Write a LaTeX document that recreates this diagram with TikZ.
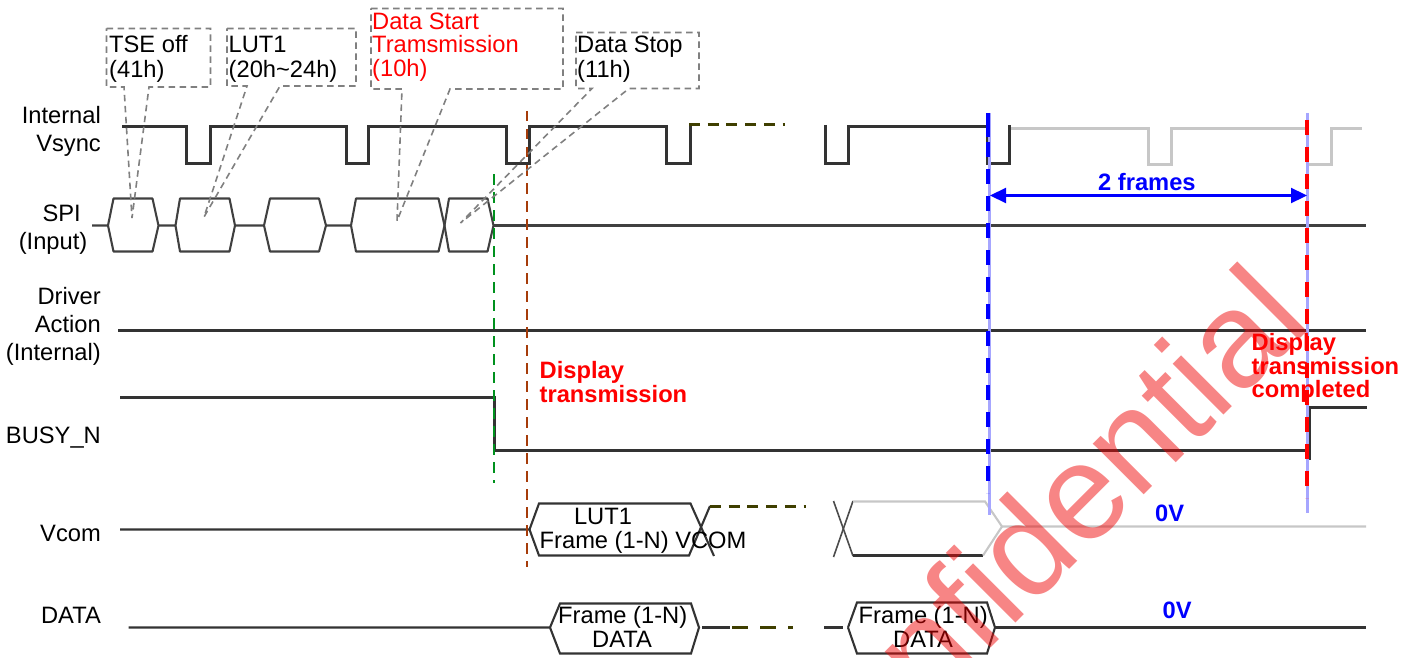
\documentclass[tikz,border=0pt]{standalone}
\usepackage{fontspec}
\usetikzlibrary{arrows.meta}
\setmainfont{Liberation Sans}
\definecolor{olivedark}{RGB}{63,63,0}
\definecolor{markgreen}{RGB}{0,145,30}
\definecolor{markbrown}{RGB}{166,60,10}
\definecolor{wmred}{RGB}{238,0,0}
\tikzset{
  wave/.style={draw=black!80,line width=2.1pt,line join=miter},
  thinwave/.style={draw=black!70,line width=1.6pt},
  spiwave/.style={draw=black!75,line width=2.1pt,line join=round},
  ghost/.style={draw=black!22,line width=2.1pt},
  olive/.style={draw=olivedark,line width=2.4pt,dash pattern=on 11pt off 7.7pt},
  callout/.style={draw=black!50,line width=1.6pt,dash pattern=on 6.5pt off 4.5pt},
  lbl/.style={font=\fontsize{23.7}{28}\selectfont,inner sep=0pt,text=black},
  lblw/.style={lbl,anchor=base west},
  lble/.style={lbl,anchor=base east},
  lblc/.style={lbl,anchor=base},
  redt/.style={lblw,text=red},
  redb/.style={lblw,text=red,font=\fontsize{23.7}{28}\selectfont\bfseries},
  blueb/.style={lblw,text=blue,font=\fontsize{23.7}{28}\selectfont\bfseries},
  greend/.style={draw=markgreen,line width=2.4pt,dash pattern=on 10.5pt off 7.5pt},
  brownd/.style={draw=markbrown,line width=2.4pt,dash pattern=on 10.5pt off 7.5pt},
  halo/.style={draw=blue!35,line width=2.4pt},
  bluem/.style={draw=blue,line width=4pt,dash pattern=on 15pt off 12pt},
  redm/.style={draw=red,line width=4pt,dash pattern=on 15pt off 12pt},
}
\begin{document}
\begin{tikzpicture}[x=1pt,y=-1pt]
\useasboundingbox (0,0) rectangle (1419,658);
\clip (0,0) rectangle (1419,658);

% --- Internal Vsync
\draw[wave] (122,126.5) -- (186.5,126.5) -- (186.5,163.5) -- (210.5,163.5) -- (210.5,126.5) -- (346.5,126.5) -- (346.5,163.5) -- (368.5,163.5) -- (368.5,126.5) -- (506.5,126.5) -- (506.5,163.5) -- (529.5,163.5) -- (529.5,126.5) -- (666.5,126.5) -- (666.5,163.5) -- (690.5,163.5) -- (690.5,124.5);
\draw[olive] (689,124.5) -- (785,124.5);
\draw[wave] (825.5,125) -- (825.5,163.5) -- (848.5,163.5) -- (848.5,126.5) -- (987.5,126.5) -- (987.5,163.5) -- (1009.5,163.5) -- (1009.5,125);
\draw[ghost] (1011,128.5) -- (1148.5,128.5) -- (1148.5,164.5) -- (1171.5,164.5) -- (1171.5,128.5) -- (1307.5,128.5) -- (1307.5,164.5) -- (1331.5,164.5) -- (1331.5,128.5) -- (1362,128.5);

% --- SPI
\draw[spiwave] (92,225.5) -- (108,225.5) -- (113.5,198.5) -- (152.5,198.5) -- (158.5,225.5) -- (152.5,251.5) -- (113.5,251.5) -- (108,225.5);
\draw[spiwave] (158.5,225.5) -- (175.5,225.5) -- (180,198.5) -- (229.5,198.5) -- (235,225.5) -- (229.5,251.5) -- (180,251.5) -- (175.5,225.5);
\draw[spiwave] (235,225.5) -- (264,225.5) -- (270,198.5) -- (319,198.5) -- (326,225.5) -- (319,251.5) -- (270,251.5) -- (264,225.5);
\draw[spiwave] (326,225.5) -- (351,225.5) -- (356,198.5) -- (438.5,198.5) -- (444.5,225.5) -- (438.5,251.5) -- (356,251.5) -- (351,225.5);
\draw[spiwave] (444.5,225.5) -- (449,198.5) -- (487.5,198.5) -- (493.5,225.5) -- (487.5,251.5) -- (449,251.5) -- (444.5,225.5);
\draw[spiwave] (493.5,225.5) -- (1366,225.5);

% --- Driver Action
\draw[wave] (118,330.5) -- (1366,330.5);

% --- BUSY_N
\draw[wave] (120,397.5) -- (494.5,397.5) -- (494.5,450.5) -- (1307,450.5);
\draw[wave] (1309.5,460) -- (1309.5,407.5) -- (1367,407.5);

% --- Vcom
\draw[wave] (120,529.5) -- (529.5,529.5) -- (539,503.5) -- (690.5,503.5) -- (714,556);
\draw[wave] (529.5,529.5) -- (539,555.5) -- (689,555.5) -- (710,506);
\draw[olive] (710,506.5) -- (806,506.5);
\draw[thinwave] (833.5,501) -- (853,556);
\draw[thinwave] (833.5,557) -- (853,501);
\draw[wave] (853,555.5) -- (983,555.5);
\draw[ghost] (853,501.5) -- (985,501.5) -- (1002,526.5) -- (1366,526.5);
\draw[ghost] (983,555.5) -- (1002,526.5);

% --- DATA
\draw[wave] (128.5,627.5) -- (550,627.5) -- (560,603.5) -- (691,603.5) -- (699,627.5) -- (691,653.5) -- (560,653.5) -- (550,627.5);
\draw[wave] (702,627.5) -- (730,627.5);
\draw[draw=olivedark,line width=3.6pt,dash pattern=on 16pt off 12pt] (732,627.5) -- (793,627.5);
\draw[wave] (824,627.5) -- (842.5,627.5);
\draw[wave] (848,627.5) -- (857,602.5) -- (987,602.5) -- (995,627.5) -- (987,653.5) -- (857,653.5) -- (848,627.5);
\draw[wave] (995,627.5) -- (1366,627.5);

% --- event markers
\draw[greend] (494,174) -- (494,483);
\draw[brownd] (527,111) -- (527,567);
\draw[halo] (989.5,113) -- (989.5,515);
\draw[draw=blue,line width=4pt] (987.5,113) -- (987.5,137);
\draw[bluem] (987.5,142) -- (987.5,493);
\draw[halo] (1307.5,113) -- (1307.5,513);
\draw[redm] (1307,120) -- (1307,498);

% --- 2 frames
\coordinate (fa) at (990,195.5);
\coordinate (fb) at (1307,195.5);
\draw[draw=blue,line width=2.2pt,{Triangle[length=16pt,width=15pt]}-{Triangle[length=16pt,width=15pt]}] (fa) -- (fb);
\node[blueb] (frames) at (1098,190) {2 frames};

% --- callouts
\draw[callout] (106.5,28.5) -- (210.5,28.5) -- (210.5,87) -- (149,87) -- (132,218) -- (124,87) -- (106.5,87) -- cycle;
\draw[callout] (227,28.5) -- (356,28.5) -- (356,86) -- (280,86) -- (204,217) -- (247,86) -- (227,86) -- cycle;
\draw[callout] (371,8.5) -- (563,8.5) -- (563,89) -- (450,89) -- (397,221) -- (402,89) -- (371,89) -- cycle;
\draw[callout] (576,32.5) -- (699,32.5) -- (699,88.5) -- (629,88.5) -- (460.5,223) -- (592,88.5) -- (576,88.5) -- cycle;

\node[lblw] (tse1) at (109,53) {TSE off};
\node[lblw] (tse2) at (109,78) {(41h)};
\node[lblw] (lut1) at (228.5,53) {LUT1};
\node[lblw] (lut2) at (228.5,78) {(20h\textasciitilde24h)};
\node[redt] (ds1) at (372,29.5) {Data Start};
\node[redt] (ds2) at (372,53) {Tramsmission};
\node[redt] (ds3) at (372,77) {(10h)};
\node[lblw] (stop1) at (577,53) {Data Stop};
\node[lblw] (stop2) at (577,78) {(11h)};

% --- signal names
\node[lble] (n1) at (101,124) {Internal};
\node[lble] (n2) at (101,152) {Vsync};
\node[lble] (n3) at (81,221) {SPI};
\node[lble] (n4) at (87.5,249.5) {(Input)};
\node[lble] (n5) at (101,304.5) {Driver};
\node[lble] (n6) at (101,332.5) {Action};
\node[lble] (n7) at (101,360.5) {(Internal)};
\node[lble] (n8) at (101,443) {BUSY\_N};
\node[lble] (n9) at (101,541) {Vcom};
\node[lble] (n10) at (101,623.5) {DATA};

% --- wave texts
\node[lblc] (v1) at (603,524) {LUT1};
\node[lblw] (v2) at (539.5,548) {Frame (1-N) VCOM};
\node[lblw] (d1) at (558,623.5) {Frame (1-N)};
\node[lblc] (d2) at (622,647) {DATA};
\node[lblw] (d3) at (858.5,623) {Frame (1-N)};
\node[lblc] (d4) at (923,647) {DATA};

\node[blueb] (zero1) at (1155,521.5) {0V};
\node[blueb] (zero2) at (1162.5,618) {0V};

% --- watermark
\node[lblw,font=\fontsize{136}{140}\selectfont,text=wmred,text opacity=0.48,rotate=45] (wm) at (806,833) {Confidential};

% --- red remarks
\node[redb] (r1) at (539.5,378.5) {Display};
\node[redb] (r2) at (539.5,402.5) {transmission};
\node[redb] (r3) at (1251.5,350) {Display};
\node[redb] (r4) at (1251.5,374) {transmission};
\node[redb] (r5) at (1251.5,397) {completed};
\end{tikzpicture}
\end{document}
